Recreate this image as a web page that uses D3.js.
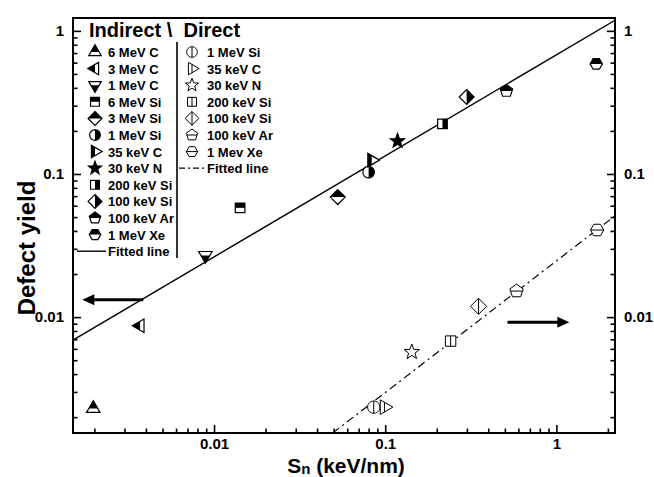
<!DOCTYPE html>
<html>
<head>
<meta charset="utf-8">
<script src="https://cdn.jsdelivr.net/npm/d3@7"></script>
<style>
  body { margin: 0; background: #fff; }
  text { font-family: Arial, "Liberation Sans", sans-serif; font-weight: bold; fill: #000; }
</style>
</head>
<body>
<div id="chart"></div>
<script>
// indirect measurements (half filled symbols)
const indirectLabels = ["6 MeV C", "3 MeV C", "1 MeV C", "6 MeV Si", "3 MeV Si", "1 MeV Si",
  "35 keV C", "30 keV N", "200 keV Si", "100 keV Si", "100 keV Ar", "1 MeV Xe"];
const indirectSn = [0.00197, 0.0037, 0.0089, 0.0142, 0.0528, 0.080, 0.0834, 0.118, 0.216, 0.299, 0.511, 1.71];
const indirectYield = [0.0023, 0.0087, 0.027, 0.058, 0.069, 0.103, 0.125, 0.17, 0.224, 0.345, 0.38, 0.588];

// direct measurements (open symbols)
const directLabels = ["1 MeV Si", "35 keV C", "30 keV N", "200 keV Si", "100 keV Si", "100 keV Ar", "1 Mev Xe"];
const directSn = [0.0857, 0.099, 0.143, 0.241, 0.351, 0.585, 1.73];
const directYield = [0.00235, 0.00235, 0.0057, 0.0068, 0.0119, 0.0152, 0.0406];

// fitted power laws  yield = a * Sn^b
const fitIndirect = { a: 0.68, b: 0.706 };
const fitDirect = { a: 0.0247, b: 0.92 };

const majorTicks = [0.01, 0.1, 1];
const majorLabels = ["0.01", "0.1", "1"];

// symbol styles
const indirectShape = ["triUp", "triLeft", "triDown", "square", "diamond", "circle",
  "triRight", "star", "square", "diamond", "pentagon", "hexagon"];
const indirectHalf = ["top", "left", "bottom", "top", "top", "right",
  "left", "full", "right", "right", "top", "top"];
const directShape = ["circle", "triRight", "star", "square", "diamond", "pentagon", "hexagon"];
const directDivide = ["v", "v", "none", "v", "v", "h", "h"];

const W = 654, H = 477;
const plot = { left: 73, right: 615, top: 18, bottom: 433 };

const svg = d3.select("#chart").append("svg").attr("width", W).attr("height", H);
svg.append("rect").attr("width", W).attr("height", H).attr("fill", "#fff");

const x = d3.scaleLog().domain([0.0015, 2.2]).range([plot.left, plot.right]);
const y = d3.scaleLog().domain([0.00155, 1.23]).range([plot.bottom, plot.top]);

const minorOf = (dom) => {
  const out = [];
  for (let e = -4; e <= 1; e++) for (let k = 2; k <= 9; k++) {
    const v = k * Math.pow(10, e);
    if (v > dom[0] && v < dom[1]) out.push(v);
  }
  return out;
};

// axes, ticks point inwards
function drawAxis(axisFn, scale, transform, pad) {
  const g = svg.append("g").attr("transform", transform);
  g.call(axisFn(scale).tickValues(minorOf(scale.domain())).tickSizeInner(-4.5).tickSizeOuter(0).tickFormat(""));
  g.call((s) => s.select(".domain").remove());
  const g2 = svg.append("g").attr("transform", transform);
  g2.call(axisFn(scale).tickValues(majorTicks).tickSizeInner(-8).tickSizeOuter(0).tickPadding(pad)
    .tickFormat((d, i) => majorLabels[i]));
  g2.select(".domain").remove();
  svg.selectAll(".tick line").attr("stroke", "#000").attr("stroke-width", 1.6);
  g2.selectAll("text").style("font-size", "15px").style("font-family", "Arial, 'Liberation Sans', sans-serif");
}
drawAxis(d3.axisBottom, x, `translate(0,${plot.bottom})`, 5);
drawAxis(d3.axisLeft, y, `translate(${plot.left},0)`, 9);
drawAxis(d3.axisRight, y, `translate(${plot.right},0)`, 9);

svg.append("rect")
  .attr("x", plot.left).attr("y", plot.top)
  .attr("width", plot.right - plot.left).attr("height", plot.bottom - plot.top)
  .attr("fill", "none").attr("stroke", "#000").attr("stroke-width", 2);

// clip for fitted lines
svg.append("clipPath").attr("id", "plotclip").append("rect")
  .attr("x", plot.left).attr("y", plot.top)
  .attr("width", plot.right - plot.left).attr("height", plot.bottom - plot.top);

function fitPath(fit) {
  const xs = [x.domain()[0], x.domain()[1]];
  const lo = Math.pow(y.domain()[0] / fit.a, 1 / fit.b);
  const pts = [Math.max(xs[0], lo), xs[1]].map((v) => [x(v), y(fit.a * Math.pow(v, fit.b))]);
  return d3.line()(pts);
}
svg.append("path").attr("d", fitPath(fitIndirect)).attr("clip-path", "url(#plotclip)")
  .attr("fill", "none").attr("stroke", "#000").attr("stroke-width", 1.4);
svg.append("path").attr("d", fitPath(fitDirect)).attr("clip-path", "url(#plotclip)")
  .attr("fill", "none").attr("stroke", "#000").attr("stroke-width", 1.2)
  .attr("stroke-dasharray", "8,4,2,4");

// symbols
function shapePts(shape, r) {
  const poly = (n, start, rad) => d3.range(n).map((i) => {
    const a = start + (i * 2 * Math.PI) / n;
    return [rad * Math.cos(a), rad * Math.sin(a)];
  });
  switch (shape) {
    case "triUp": return poly(3, -Math.PI / 2, r * 1.2);
    case "triDown": return poly(3, Math.PI / 2, r * 1.2);
    case "triLeft": return poly(3, Math.PI, r * 1.2);
    case "triRight": return poly(3, 0, r * 1.2);
    case "square": return poly(4, Math.PI / 4, r * 1.05);
    case "diamond": return poly(4, -Math.PI / 2, r * 1.15);
    case "circle": return poly(40, 0, r * 0.88);
    case "pentagon": return poly(5, -Math.PI / 2, r);
    case "hexagon": return poly(6, 0, r * 0.95);
    case "star": return d3.range(10).map((i) => {
      const a = -Math.PI / 2 + (i * Math.PI) / 5, rad = i % 2 ? r * 0.48 : r * 1.15;
      return [rad * Math.cos(a), rad * Math.sin(a)];
    });
  }
}
function clipHalf(pts, side) {
  const f = { top: (p) => -p[1], bottom: (p) => p[1], left: (p) => -p[0], right: (p) => p[0] }[side];
  const out = [];
  for (let i = 0; i < pts.length; i++) {
    const a = pts[i], b = pts[(i + 1) % pts.length];
    const fa = f(a), fb = f(b);
    if (fa >= 0) out.push(a);
    if ((fa >= 0) !== (fb >= 0)) {
      const t = fa / (fa - fb);
      out.push([a[0] + t * (b[0] - a[0]), a[1] + t * (b[1] - a[1])]);
    }
  }
  return out;
}
const closed = d3.line().curve(d3.curveLinearClosed);

function marker(g, cx, cy, shape, mode, r, sw) {
  const pts = shapePts(shape, r);
  const m = g.append("g").attr("transform", `translate(${cx},${cy})`);
  m.append("path").attr("d", closed(pts)).attr("fill", "#fff");
  if (mode === "full") {
    m.append("path").attr("d", closed(pts)).attr("fill", "#000");
  } else if (["top", "bottom", "left", "right"].includes(mode)) {
    m.append("path").attr("d", closed(clipHalf(pts, mode))).attr("fill", "#000");
  } else if (mode === "v" || mode === "h") {
    const half = clipHalf(pts, mode === "v" ? "left" : "top");
    const k = mode === "v" ? 0 : 1;
    const on = half.filter((p) => Math.abs(p[k]) < 1e-6).map((p) => p[1 - k]);
    const a = d3.min(on), b = d3.max(on);
    const seg = mode === "v" ? [[0, a], [0, b]] : [[a, 0], [b, 0]];
    m.append("path").attr("d", d3.line()(seg)).attr("stroke", "#000").attr("stroke-width", sw);
  }
  m.append("path").attr("d", closed(pts)).attr("fill", "none")
    .attr("stroke", "#000").attr("stroke-width", sw).attr("stroke-linejoin", "miter");
}

const marks = svg.append("g");
directSn.forEach((v, i) => marker(marks, x(v), y(directYield[i]), directShape[i], directDivide[i], 7, 1));
indirectSn.forEach((v, i) => marker(marks, x(v), y(indirectYield[i]), indirectShape[i], indirectHalf[i], 6.5, 1.2));

// arrows pointing to the axis each series belongs to
function arrow(x0, x1, yv) {
  const px0 = x(x0), px1 = x(x1), py = y(yv);
  const dir = Math.sign(px1 - px0);
  svg.append("line").attr("x1", px0).attr("x2", px1 - dir * 9).attr("y1", py).attr("y2", py)
    .attr("stroke", "#000").attr("stroke-width", 3);
  svg.append("path").attr("d", closed([[px1, py], [px1 - dir * 12, py - 5.5], [px1 - dir * 12, py + 5.5]]))
    .attr("fill", "#000");
}
arrow(0.00386, 0.00170, 0.0132);
arrow(0.518, 1.19, 0.0092);

// legend
const lg = svg.append("g");
lg.append("text").attr("x", 89).attr("y", 37).style("font-size", "20px")
  .style("white-space", "pre").text("Indirect \\  Direct");
const row0 = 52, step = 16.6;
indirectLabels.forEach((lab, i) => {
  const yy = row0 + i * step;
  marker(lg, 95, yy, indirectShape[i], indirectHalf[i], 6, 1.2);
  lg.append("text").attr("x", 108).attr("y", yy + 5).style("font-size", "13px").text(lab);
});
lg.append("line").attr("x1", 77).attr("x2", 106)
  .attr("y1", row0 + indirectLabels.length * step).attr("y2", row0 + indirectLabels.length * step)
  .attr("stroke", "#000").attr("stroke-width", 1.4);
lg.append("text").attr("x", 108).attr("y", row0 + indirectLabels.length * step + 5)
  .style("font-size", "13px").text("Fitted line");

directLabels.forEach((lab, i) => {
  const yy = row0 + i * step;
  marker(lg, 192, yy, directShape[i], directDivide[i], 6, 1);
  lg.append("text").attr("x", 207).attr("y", yy + 5).style("font-size", "13px").text(lab);
});
lg.append("line").attr("x1", 179).attr("x2", 205)
  .attr("y1", row0 + directLabels.length * step).attr("y2", row0 + directLabels.length * step)
  .attr("stroke", "#000").attr("stroke-width", 1.2).attr("stroke-dasharray", "6,3,2,3");
lg.append("text").attr("x", 207).attr("y", row0 + directLabels.length * step + 5)
  .style("font-size", "13px").text("Fitted line");
lg.append("line").attr("x1", 177).attr("x2", 177).attr("y1", 42).attr("y2", 258)
  .attr("stroke", "#000").attr("stroke-width", 1.6);

// axis titles
svg.append("text").attr("transform", "translate(35,248) rotate(-90)")
  .attr("text-anchor", "middle").style("font-size", "24px").text("Defect yield");
const xt = svg.append("text").attr("x", 346).attr("y", 473).attr("text-anchor", "middle").style("font-size", "21px");
xt.append("tspan").text("S");
xt.append("tspan").style("font-size", "15px").attr("dy", 1).text("n");
xt.append("tspan").attr("dy", -1).text(" (keV/nm)");
</script>
</body>
</html>
